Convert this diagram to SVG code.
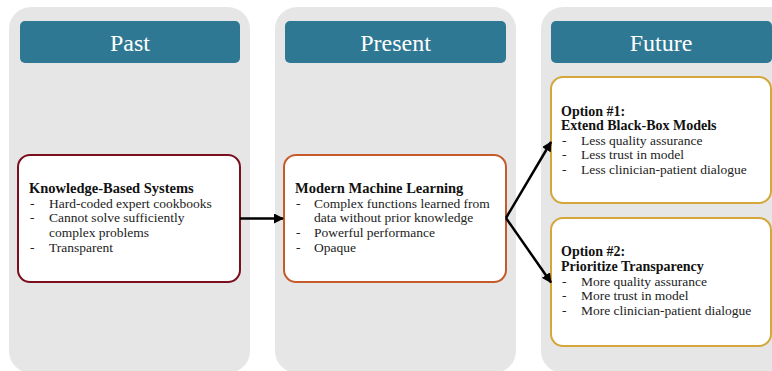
<svg xmlns="http://www.w3.org/2000/svg" width="772" height="371" viewBox="0 0 772 371">
<defs>
<marker id="ah" viewBox="0 0 10 10" refX="9" refY="5" markerWidth="4" markerHeight="4" orient="auto" markerUnits="strokeWidth">
<path d="M0,0 L10,5 L0,10 Z" fill="#000"/>
</marker>
<style>
.panel{fill:#E6E6E6}
.hdr{fill:#2E7893}
.hdrt{font-family:"Liberation Serif",serif;font-size:24px;fill:#fff;text-anchor:middle}
.box{fill:#fff;stroke-width:2}
.t{font-family:"Liberation Serif",serif;font-size:13.5px;fill:#222}
.b{font-family:"Liberation Serif",serif;font-size:14.5px;font-weight:bold;fill:#111}
.b2{font-family:"Liberation Serif",serif;font-size:14px;font-weight:bold;fill:#111}
.conn{stroke:#000;stroke-width:2.5;fill:none}
</style>
</defs>
<rect width="772" height="371" fill="#fff"/>
<g id="col-past">
<rect class="panel" x="9" y="7" width="241" height="366" rx="22"/>
<rect class="hdr" x="20" y="21" width="220" height="42" rx="5"/>
<text class="hdrt" x="130" y="51">Past</text>
</g>
<g id="col-present">
<rect class="panel" x="275" y="7" width="241" height="366" rx="22"/>
<rect class="hdr" x="285" y="21" width="221" height="42" rx="5"/>
<text class="hdrt" x="395.5" y="51">Present</text>
</g>
<g id="col-future">
<rect class="panel" x="541" y="7" width="260" height="366" rx="22"/>
<rect class="hdr" x="551" y="21" width="221" height="42" rx="5"/>
<text class="hdrt" x="661" y="51">Future</text>
</g>
<g id="node-past">
<rect class="box" x="18" y="155" width="222" height="127" rx="12" stroke="#7A0F1E"/>
<text class="b" x="29" y="193">Knowledge-Based Systems</text>
<text class="t" x="30" y="208">-</text><text class="t" x="49" y="208">Hard-coded expert cookbooks</text>
<text class="t" x="30" y="222">-</text><text class="t" x="49" y="222">Cannot solve sufficiently</text>
<text class="t" x="49" y="237">complex problems</text>
<text class="t" x="30" y="252">-</text><text class="t" x="49" y="252">Transparent</text>
</g>
<g id="node-present">
<rect class="box" x="284" y="155" width="222" height="127" rx="12" stroke="#C55A2B"/>
<text class="b" x="295" y="193">Modern Machine Learning</text>
<text class="t" x="296" y="208">-</text><text class="t" x="314" y="208">Complex functions learned from</text>
<text class="t" x="314" y="222">data without prior knowledge</text>
<text class="t" x="296" y="237">-</text><text class="t" x="314" y="237">Powerful performance</text>
<text class="t" x="296" y="252">-</text><text class="t" x="314" y="252">Opaque</text>
</g>
<g id="node-option1">
<rect class="box" x="551" y="77" width="220" height="126" rx="12" stroke="#D4A73B"/>
<text class="b2" x="561" y="115.5">Option #1:</text>
<text class="b2" x="561" y="130">Extend Black-Box Models</text>
<text class="t" x="562" y="144.5">-</text><text class="t" x="581" y="144.5">Less quality assurance</text>
<text class="t" x="562" y="159">-</text><text class="t" x="581" y="159">Less trust in model</text>
<text class="t" x="562" y="174">-</text><text class="t" x="581" y="174">Less clinician-patient dialogue</text>
</g>
<g id="node-option2">
<rect class="box" x="551" y="218" width="220" height="128" rx="12" stroke="#D4A73B"/>
<text class="b2" x="561" y="255.5">Option #2:</text>
<text class="b2" x="561" y="270.5">Prioritize Transparency</text>
<text class="t" x="562" y="285.5">-</text><text class="t" x="581" y="285.5">More quality assurance</text>
<text class="t" x="562" y="300">-</text><text class="t" x="581" y="300">More trust in model</text>
<text class="t" x="562" y="315">-</text><text class="t" x="581" y="315">More clinician-patient dialogue</text>
</g>
<g id="connectors">
<line class="conn" x1="240" y1="218.5" x2="283" y2="218.5" marker-end="url(#ah)"/>
<path class="conn" d="M506,218 L551,142" marker-end="url(#ah)"/>
<path class="conn" d="M506,218 L551,282.5" marker-end="url(#ah)"/>
</g>
</svg>
